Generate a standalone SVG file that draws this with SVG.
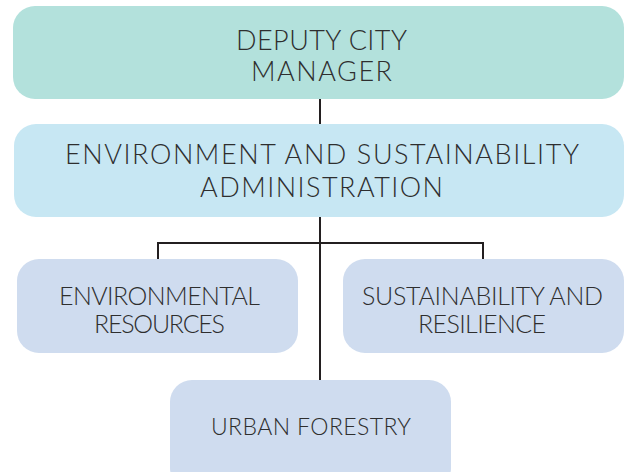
<svg xmlns="http://www.w3.org/2000/svg" width="625" height="472" viewBox="0 0 625 472">
<style>
.t{font-family:Lato,"Liberation Sans",sans-serif;font-weight:300;fill:#2e2e2e;text-anchor:middle}
.c{stroke:#231f20;stroke-width:2;fill:none}
</style>
<rect width="625" height="472" fill="#ffffff"/>
<g id="connectors">
<path class="c" d="M320 99V124M320 217V380M158 259V243H483V259"/>
</g>
<g id="deputy">
<rect x="13" y="6" width="611" height="93" rx="22" fill="#b3e1dc"/>
<text class="t" x="321.5" y="49.5" font-size="27" textLength="171" lengthAdjust="spacing">DEPUTY CITY</text>
<text class="t" x="321.5" y="81" font-size="27" textLength="141" lengthAdjust="spacing">MANAGER</text>
</g>
<g id="admin">
<rect x="14" y="124" width="610" height="93" rx="22" fill="#c7e7f3"/>
<text class="t" x="322" y="164" font-size="27" textLength="514" lengthAdjust="spacing">ENVIRONMENT AND SUSTAINABILITY</text>
<text class="t" x="321.5" y="197" font-size="27" textLength="243" lengthAdjust="spacing">ADMINISTRATION</text>
</g>
<g id="envres">
<rect x="17" y="259" width="281" height="94" rx="22" fill="#cfdcef"/>
<text class="t" x="159.5" y="305" font-size="25" textLength="201" lengthAdjust="spacing">ENVIRONMENTAL</text>
<text class="t" x="159.5" y="332.5" font-size="25" textLength="131" lengthAdjust="spacing">RESOURCES</text>
</g>
<g id="sustres">
<rect x="343" y="259" width="281" height="94" rx="22" fill="#cfdcef"/>
<text class="t" x="482.5" y="305" font-size="25" textLength="241" lengthAdjust="spacing">SUSTAINABILITY AND</text>
<text class="t" x="482" y="332.5" font-size="25" textLength="128" lengthAdjust="spacing">RESILIENCE</text>
</g>
<g id="urban">
<rect x="170" y="380" width="281" height="110" rx="22" fill="#cfdcef"/>
<text class="t" x="311" y="434.5" font-size="23" textLength="200" lengthAdjust="spacing">URBAN FORESTRY</text>
</g>
</svg>
